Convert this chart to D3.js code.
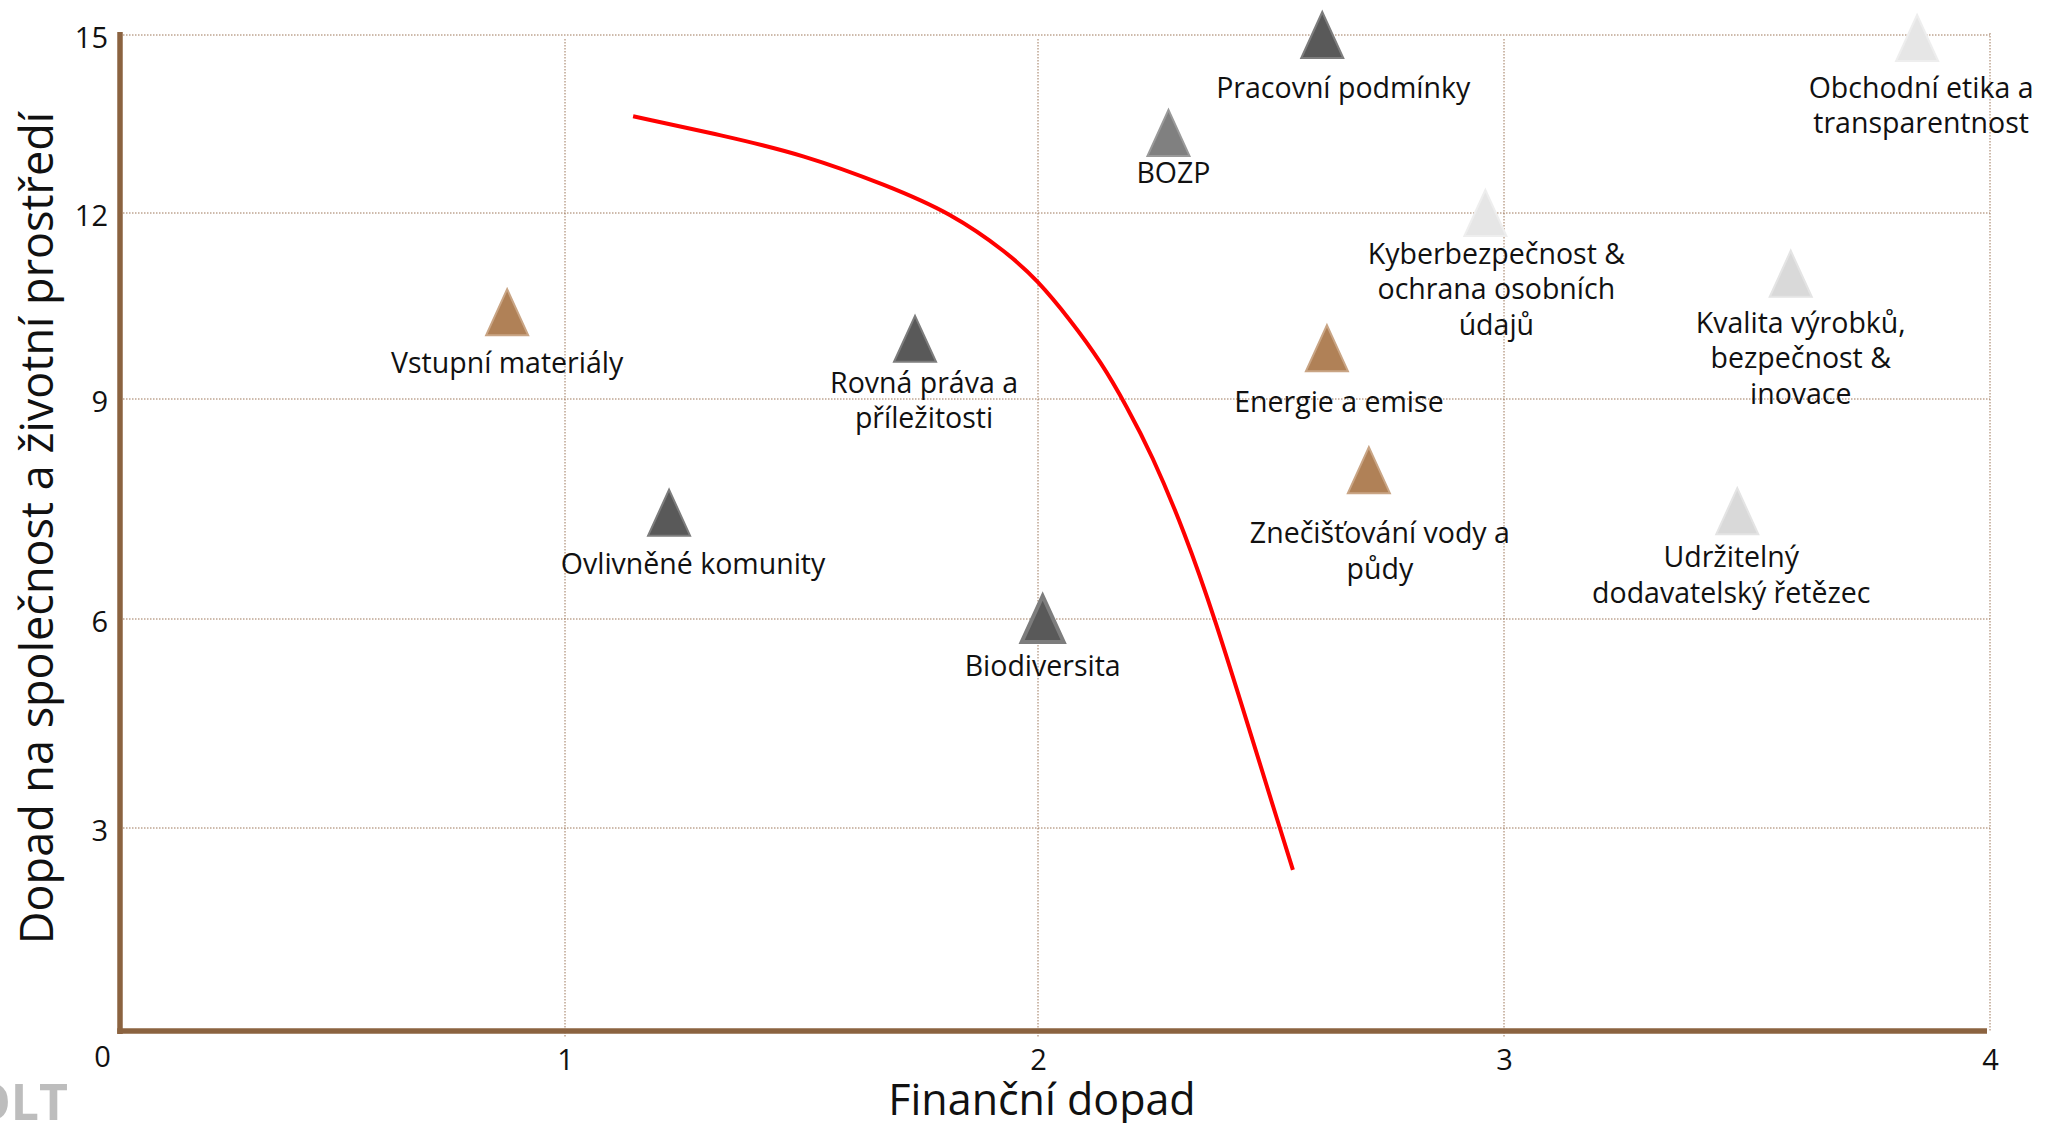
<!DOCTYPE html>
<html>
<head>
<meta charset="utf-8">
<script src="https://cdn.jsdelivr.net/npm/d3@7"></script>
<style>
  body { margin: 0; background: #fff; }
  text { font-family: "Open Sans", Lato, sans-serif; fill: #111; }
</style>
</head>
<body>
<div id="matice"></div>
<script>
    // data - temata (financni dopad, dopad na spolecnost a ZP)
    var temata = ["Vstupní materiály", "Ovlivněné komunity", "Rovná práva a|příležitosti", "Biodiversita",
                  "BOZP", "Pracovní podmínky", "Kyberbezpečnost &|ochrana osobních|údajů", "Energie a emise",
                  "Obchodní etika a|transparentnost", "Kvalita výrobků,|bezpečnost &|inovace",
                  "Znečišťování vody a|půdy", "Udržitelný|dodavatelský řetězec"];
    var financni = [0.87, 1.22, 1.74, 2.01, 2.28, 2.61, 2.96, 2.62, 3.85, 3.59, 2.71, 3.48];
    var spolecnost = [10.4, 7.45, 9.97, 6.0, 13.35, 15.0, 12.0, 9.82, 14.95, 11.02, 8.03, 7.47];
    var skupina = ["E", "S", "S", "S", "S2", "S", "G2", "E", "G2", "G", "E", "G"];

    // hranice materiality (cervena krivka)
    var hraniceX = [1.144, 1.332, 1.505, 1.679, 1.816, 1.937, 1.998, 2.067, 2.137, 2.191, 2.243, 2.315, 2.380, 2.455, 2.519, 2.547];
    var hraniceY = [13.63, 13.31, 12.98, 12.47, 12.0, 11.35, 10.92, 10.30, 9.58, 8.89, 8.26, 7.18, 6.0, 4.38, 3.0, 2.38];

    // osy
    var xTicks = [0, 1, 2, 3, 4];
    var yTicks = [3, 6, 9, 12, 15];

    // posun popisku vuci trojuhelniku [dx, dy]
    var popisPosun = [[0, 51], [24, 51], [9, 44], [0, 47], [5, 40], [21, 53], [11, 41], [12, 54], [4, 50], [10, 49], [11, 63], [-6, 46]];

    var barvy = {E: "#b08157", S: "#595959", S2: "#808080", G: "#d9d9d9", G2: "#e6e6e6"};
    var obrys = {E: "#c9a585", S: "#7d7d7d", S2: "#9a9a9a", G: "#e4e4e4", G2: "#eeeeee"};
    var hneda = "#8b6340";

    var width = 2047, height = 1123;

    var svg = d3.select("#matice")
      .append("svg")
        .attr("width", width)
        .attr("height", height);

    // obrazek ma nepravidelne rozestupy mrizky
    var x = d3.scaleLinear()
      .domain(xTicks)
      .range([120, 565, 1038, 1504, 1990]);
    var y = d3.scaleLinear()
      .domain([0, 3, 6, 9, 12, 15])
      .range([1031, 828, 619, 399, 213, 35]);

    // mrizka
    svg.selectAll("hline")
      .data(yTicks)
      .enter()
      .append("line")
        .attr("x1", x(0) + 3)
        .attr("x2", x(4))
        .attr("y1", function(d) { return y(d); })
        .attr("y2", function(d) { return y(d); })
        .attr("stroke", "#9c7658")
        .attr("stroke-width", 1)
        .attr("stroke-dasharray", "1.5,1.5");

    svg.selectAll("vline")
      .data(xTicks.slice(1))
      .enter()
      .append("line")
        .attr("x1", function(d) { return x(d); })
        .attr("x2", function(d) { return x(d); })
        .attr("y1", function(d) { return d == 4 ? y(15) - 2 : y(15) + 4; })
        .attr("y2", function(d) { return d == 4 ? y(0) : y(0) + 7; })
        .attr("stroke", "#9c7658")
        .attr("stroke-width", 1)
        .attr("stroke-dasharray", "1.5,1.5");

    // osa x
    var osaX = svg.append("g")
      .attr("transform", "translate(0," + y(0) + ")")
      .call(d3.axisBottom(x).tickValues(xTicks).tickSize(0).tickFormat(d3.format("d")));
    osaX.select(".domain").remove();
    osaX.selectAll("text")
      .attr("y", 29)
      .attr("dy", "0.35em")
      .style("font-size", "29px")
      .style("font-family", "'Open Sans', sans-serif")
      .attr("fill", "#111");
    osaX.selectAll(".tick").filter(function(d) { return d == 0; }).select("text")
      .attr("dx", -18)
      .attr("y", 26);

    // osa y
    var osaY = svg.append("g")
      .attr("transform", "translate(" + x(0) + ",0)")
      .call(d3.axisLeft(y).tickValues(yTicks).tickSize(0).tickPadding(12));
    osaY.select(".domain").remove();
    osaY.selectAll("text")
      .attr("dy", "0.42em")
      .style("font-size", "29px")
      .style("font-family", "'Open Sans', sans-serif")
      .attr("fill", "#111");

    // hnede osy
    svg.append("line")
      .attr("x1", x(0)).attr("x2", x(0))
      .attr("y1", y(15) - 3).attr("y2", y(0) + 3)
      .attr("stroke", hneda).attr("stroke-width", 5.5);
    svg.append("line")
      .attr("x1", x(0) - 2.75).attr("x2", x(4) - 3)
      .attr("y1", y(0)).attr("y2", y(0))
      .attr("stroke", hneda).attr("stroke-width", 5.5);

    // cervena krivka
    var krivka = d3.line()
      .x(function(d, i) { return x(hraniceX[i]); })
      .y(function(d, i) { return y(hraniceY[i]); })
      .curve(d3.curveBasis);
    svg.append("path")
      .attr("d", krivka(hraniceX))
      .attr("fill", "none")
      .attr("stroke", "#ff0000")
      .attr("stroke-width", 4);

    // trojuhelniky
    var tri = "M0,-23L21,23L-21,23Z";
    svg.selectAll("mytri")
      .data(temata)
      .enter()
      .append("path")
        .attr("d", tri)
        .attr("transform", function(d, i) { return "translate(" + x(financni[i]) + "," + y(spolecnost[i]) + ")"; })
        .attr("fill", function(d, i) { return barvy[skupina[i]]; })
        .attr("stroke", function(d, i) { return obrys[skupina[i]]; })
        .attr("stroke-width", function(d, i) { return financni[i] == 2.01 ? 4 : 2; })
        .attr("stroke-linejoin", "miter");

    // popisky
    var popisky = svg.selectAll("mylabel")
      .data(temata)
      .enter()
      .append("text")
        .attr("x", function(d, i) { return x(financni[i]) + popisPosun[i][0]; })
        .attr("y", function(d, i) { return y(spolecnost[i]) + popisPosun[i][1]; })
        .style("text-anchor", "middle")
        .style("font-size", "28.5px");
    popisky.each(function(d, i) {
      var el = d3.select(this);
      d.split("|").forEach(function(radek, j) {
        el.append("tspan")
          .attr("x", x(financni[i]) + popisPosun[i][0])
          .attr("dy", j == 0 ? "0.35em" : 35.5)
          .text(radek);
      });
    });

    // titulky os
    svg.append("text")
      .attr("x", 1042)
      .attr("y", 1100)
      .attr("dy", "0.35em")
      .style("text-anchor", "middle")
      .style("font-size", "43px")
      .text("Finanční dopad");

    svg.append("text")
      .attr("transform", "translate(37,528) rotate(-90)")
      .attr("dy", "0.35em")
      .style("text-anchor", "middle")
      .style("font-size", "45px")
      .text("Dopad na společnost a životní prostředí");

    // logo vlevo dole (oriznute)
    svg.append("text")
      .attr("x", 68)
      .attr("y", 1120)
      .style("text-anchor", "end")
      .style("font-size", "50px")
      .style("font-weight", "bold")
      .style("fill", "#bdbdbd")
      .text("OLT");
</script>
</body>
</html>
